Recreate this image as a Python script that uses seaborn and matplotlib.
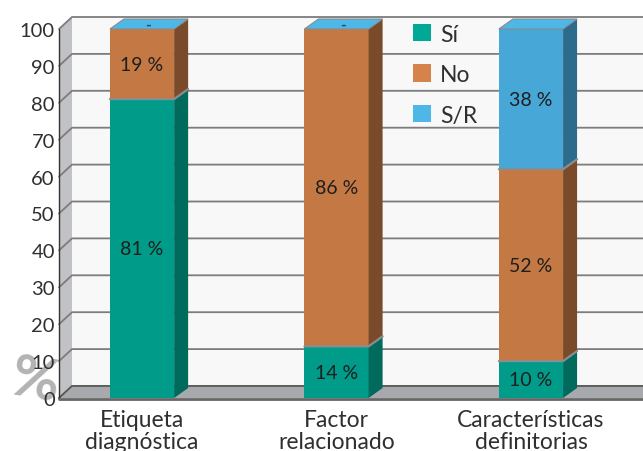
import matplotlib
matplotlib.use("Agg")
import matplotlib.pyplot as plt
import matplotlib.transforms as mtransforms
from matplotlib.patches import Polygon, Patch
from matplotlib.lines import Line2D
import numpy as np
import pandas as pd
import seaborn as sns

# ---- data -------------------------------------------------------------
categories = ["Etiqueta\ndiagnóstica", "Factor\nrelacionado", "Características\ndefinitorias"]
series_names = ["Sí", "No", "S/R"]
si_values = [81, 14, 10]
no_values = [19, 86, 52]
sr_values = [0, 0, 38]
y_ticks = [0, 10, 20, 30, 40, 50, 60, 70, 80, 90, 100]

# ---- colours ----------------------------------------------------------
front_colors = {"Sí": "#009b89", "No": "#c47944", "S/R": "#47a7d7"}
side_colors = {"Sí": "#006a5d", "No": "#7a4b2a", "S/R": "#2c6b8b"}
top_colors = {"Sí": "#00b09c", "No": "#d5834b", "S/R": "#4db8e8"}
legend_colors = {"Sí": "#00a896", "No": "#d5834b", "S/R": "#4db8e8"}
back_wall = "#f8f8f8"
side_wall = "#c1c2c5"
floor_col = "#a8a9ac"
grid_col = "#7c7c7c"
text_col = "#2f2f2f"

df = pd.DataFrame({"categoria": categories, "Sí": si_values, "No": no_values, "S/R": sr_values})

sns.set_theme(style="white")
plt.rcParams["font.family"] = ["Lato", "DejaVu Sans"]

W, H = 643, 452
fig = plt.figure(figsize=(W / 100, H / 100), dpi=100)
fig.patch.set_facecolor("white")

# front plane of the plot box, in pixels
left_px, right_px, base_px, top_px = 59, 643, 399, 30
ax = fig.add_axes([left_px / W, (H - base_px) / H,
                   (right_px - left_px) / W, (base_px - top_px) / H])
ax.patch.set_visible(False)

XMIN, XMAX = -0.427, 2.576

# stacked bars (front faces)
series_patches = []
bottom = np.zeros(len(categories))
for name in series_names:
    n_before = len(ax.patches)
    sns.barplot(data=df, x="categoria", y=name, bottom=bottom, color=front_colors[name],
                saturation=1, width=0.33, edgecolor="none", linewidth=0, zorder=3, ax=ax)
    series_patches.append(ax.patches[n_before:])
    bottom = bottom + df[name].to_numpy()
totals = bottom

ax.set_xlim(XMIN, XMAX)
ax.set_ylim(0, 100)
ax.autoscale(False)

ident = mtransforms.IdentityTransform()


def to_px(x, y):
    return np.asarray(ax.transData.transform((x, y)), dtype=float)


wall_depth = np.array([13.0, 12.0])
bar_depth = np.array([14.0, 10.0])
right_edge = W + 20

# back wall
bl = to_px(XMIN, 0) + wall_depth
tl = to_px(XMIN, 100) + wall_depth
ax.add_patch(Polygon([bl, [right_edge, bl[1]], [right_edge, tl[1]], tl], closed=True,
                     transform=ident, facecolor=back_wall, edgecolor="none", zorder=0.5, clip_on=False))
# left wall
f0, f1 = to_px(XMIN, 0), to_px(XMIN, 100)
ax.add_patch(Polygon([f0, f1, f1 + wall_depth, f0 + wall_depth], closed=True,
                     transform=ident, facecolor=side_wall, edgecolor="none", zorder=0.6, clip_on=False))
# grid lines on back wall and left wall
for v in y_ticks:
    f = to_px(XMIN, v)
    b = f + wall_depth
    ax.add_line(Line2D([f[0], b[0], right_edge], [f[1], b[1], b[1]], transform=ident,
                       color=grid_col, lw=1.3, zorder=1, clip_on=False))
# floor
ax.add_patch(Polygon([f0, f0 + wall_depth, [right_edge, f0[1] + wall_depth[1]], [right_edge, f0[1]]],
                     closed=True, transform=ident, facecolor=floor_col, edgecolor="none",
                     zorder=1.5, clip_on=False))
ax.add_line(Line2D([f0[0], f0[0] + wall_depth[0], right_edge],
                   [f0[1], f0[1] + wall_depth[1], f0[1] + wall_depth[1]], transform=ident,
                   color="#555555", lw=1.2, zorder=1.6, clip_on=False))
# front edges
ax.add_line(Line2D([f0[0], f1[0]], [f0[1], f1[1]], transform=ident, color="#333333",
                   lw=1.0, zorder=2, clip_on=False))
ax.add_line(Line2D([f0[0], right_edge], [f0[1] - 1, f0[1] - 1], transform=ident, color="#666666",
                   lw=2.0, zorder=2, clip_on=False))

# 3D faces of the bars and value labels
n_series = len(series_names)
for s_idx, (name, patches) in enumerate(zip(series_names, series_patches)):
    for c_idx, p in enumerate(patches):
        x0, w = p.get_x(), p.get_width()
        y0, h = p.get_y(), p.get_height()
        pfl, pfr = to_px(x0, y0), to_px(x0 + w, y0)
        ptl, ptr = to_px(x0, y0 + h), to_px(x0 + w, y0 + h)
        if h > 0:
            ax.add_patch(Polygon([pfr, ptr, ptr + bar_depth, pfr + bar_depth], closed=True,
                                 transform=ident, facecolor=side_colors[name], edgecolor="none",
                                 zorder=3, clip_on=False))
            ax.text(x0 + w / 2, y0 + h / 2, f"{h:.0f} %", ha="center", va="center",
                    fontsize=14, color="#1e1e1e", zorder=5)
        if s_idx == n_series - 1:
            ax.add_patch(Polygon([ptl, ptr, ptr + bar_depth, ptl + bar_depth], closed=True,
                                 transform=ident, facecolor=top_colors[name], edgecolor="#8a8a8a",
                                 lw=0.8, zorder=3.5, clip_on=False))
            if h == 0:
                c = (ptl + ptr) / 2 + bar_depth * 0.45
                ax.text(c[0], c[1], "-", transform=ident, ha="center", va="center",
                        fontsize=11, fontweight="bold", color="#2a4a5a", zorder=5)
        elif h > 0 and y0 + h < totals[c_idx]:
            ax.add_line(Line2D([ptl[0], ptr[0], ptr[0] + bar_depth[0]],
                               [ptl[1], ptr[1], ptr[1] + bar_depth[1]], transform=ident,
                               color="#8c8c8c", lw=1.6, zorder=3.6, clip_on=False))

# axes text
ax.set_yticks(y_ticks)
ax.set_yticklabels([str(v) for v in y_ticks], fontsize=14.5, color=text_col)
ax.set_xticks(range(len(categories)))
ax.set_xticklabels(categories, fontsize=16.5, color=text_col, linespacing=1.05)
ax.tick_params(axis="both", length=0)
ax.tick_params(axis="y", pad=3)
ax.tick_params(axis="x", pad=8)
ax.set_xlabel("")
ax.set_ylabel("")
for sp in ax.spines.values():
    sp.set_visible(False)

# big percent sign beside the value axis
fig.text(35 / W, (H - 382) / H, "%", fontsize=42, fontweight="bold", color="#b3b3b3",
         ha="center", va="center", rotation=-10, zorder=-1)

# legend
handles = [Patch(facecolor=legend_colors[n], edgecolor="none", label=n) for n in series_names]
fig.legend(handles=handles, loc="upper left", bbox_to_anchor=(392 / W, (H - 4) / H),
           frameon=False, fontsize=16.5, handlelength=0.8, handleheight=0.8,
           handletextpad=0.4, labelspacing=0.85, labelcolor=text_col)

fig.savefig("out.png", dpi=100, facecolor="white")
